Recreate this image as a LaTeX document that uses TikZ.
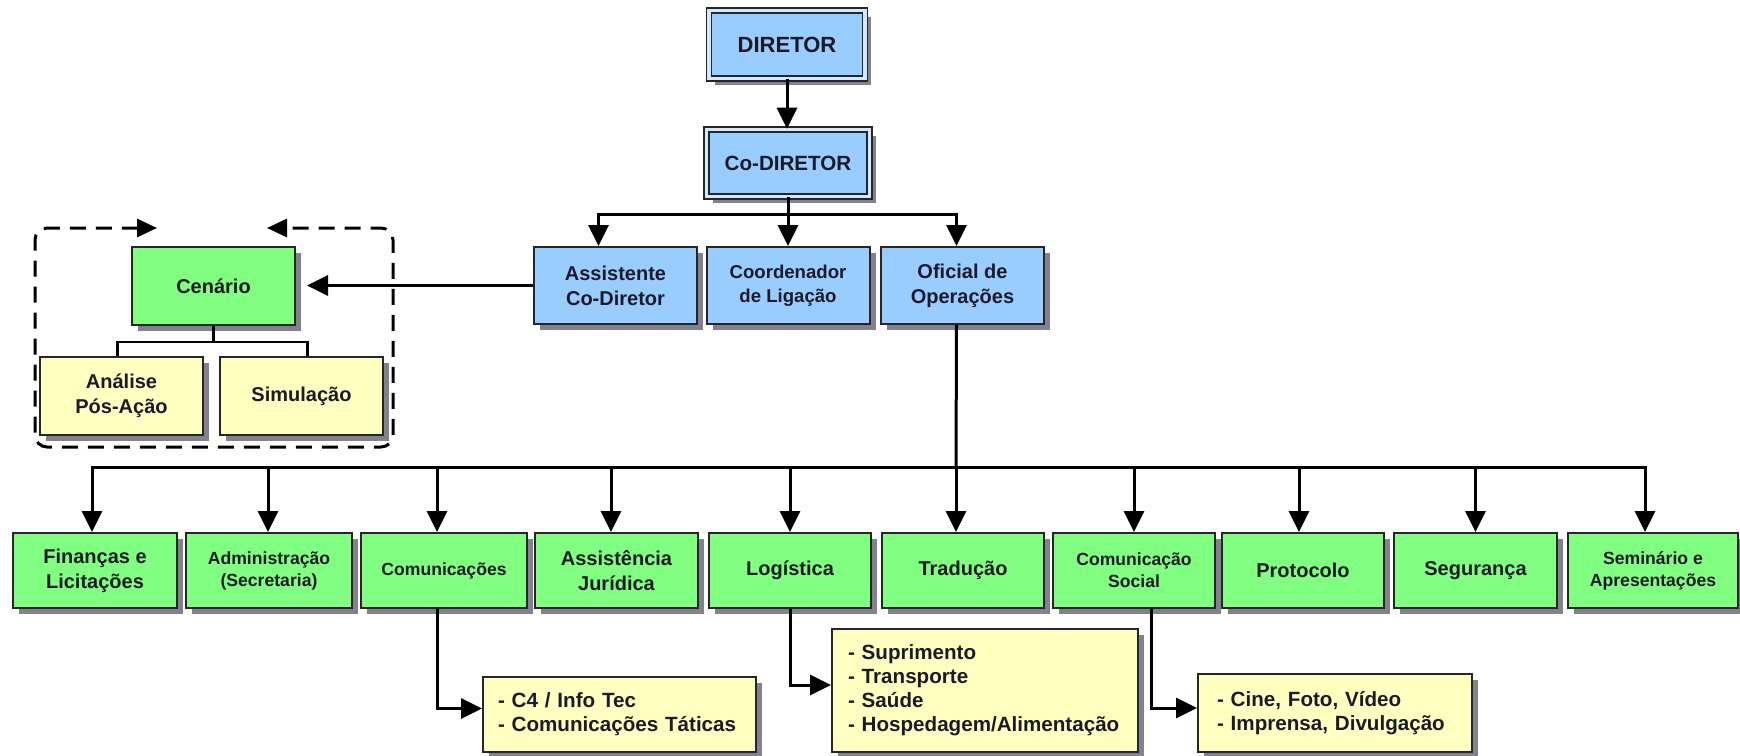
\documentclass[tikz,border=0pt]{standalone}
\usepackage{fontspec}
\setmainfont{Liberation Sans}
\usetikzlibrary{arrows.meta,shadows}
\definecolor{bblue}{HTML}{99CCFF}
\definecolor{bgreen}{HTML}{80FF80}
\definecolor{byellow}{HTML}{FFFFC0}
\definecolor{shad}{HTML}{858090}
\definecolor{txt}{HTML}{1A1A28}
\tikzset{
  box/.style={draw=black!85, line width=1pt, text=txt, align=center, inner sep=0pt,
    font=\bfseries\fontsize{10}{12.5}\selectfont,
    drop shadow={shadow xshift=3pt, shadow yshift=-3pt, fill=shad, opacity=1}},
  boss/.style={box, fill=bblue, double=bblue!45!white, double distance=1.6pt, line width=0.8pt},
  bluebox/.style={box, fill=bblue, minimum width=81.5pt, minimum height=38.5pt},
  greenbox/.style={box, fill=bgreen, minimum height=37.5pt},
  yellowbox/.style={box, fill=byellow},
  listbox/.style={box, fill=byellow, align=left, font=\bfseries\fontsize{10.3}{12}\selectfont},
  smalltxt/.style={font=\bfseries\fontsize{8.8}{11}\selectfont},
  conn/.style={line width=1.5pt, draw=black},
  arr/.style={conn, -{Triangle[width=10pt,length=10.5pt]}},
  treeline/.style={line width=1.3pt, draw=black},
  dashframe/.style={line width=1.5pt, draw=black, dash pattern=on 8pt off 5pt, rounded corners=6pt,
    {Triangle[width=9pt,length=10pt]}-{Triangle[width=9pt,length=10pt]}},
}
\begin{document}
\begin{tikzpicture}[x=0.5pt, y=-0.5pt]
\fill[white] (0,0) rectangle (1740,755);
\useasboundingbox (0,0) rectangle (1740,755);

% top
\node[boss, minimum width=78pt, minimum height=34pt, font=\bfseries\fontsize{11}{13}\selectfont] (dir) at (787,44.5) {DIRETOR};
\node[boss, minimum width=81.5pt, minimum height=33.5pt, font=\bfseries\fontsize{10.3}{12}\selectfont] (codir) at (788,163) {Co-DIRETOR};

\node[bluebox] (asst) at (615.5,285.5) {Assistente\\Co-Diretor};
\node[bluebox, font=\bfseries\fontsize{9.3}{12}\selectfont] (coord) at (788,285.5) {Coordenador\\de Ligação};
\node[bluebox] (ofic) at (962.5,285.5) {Oficial de\\Operações};

% left group
\node[greenbox, minimum width=81.5pt, minimum height=39pt] (cen) at (213.5,286) {Cenário};
\node[yellowbox, minimum width=81.5pt, minimum height=39pt] (anal) at (121.5,396) {Análise\\Pós-Ação};
\node[yellowbox, minimum width=81.5pt, minimum height=39pt] (simu) at (301.5,396) {Simulação};

% bottom row
\node[greenbox, minimum width=82pt] (fin) at (95,570.5) {Finanças e\\Licitações};
\node[greenbox, smalltxt, minimum width=83pt] (adm) at (269,570.5) {Administração\\(Secretaria)};
\node[greenbox, smalltxt, minimum width=83pt] (com) at (444,570.5) {Comunicações};
\node[greenbox, minimum width=81.5pt] (ajur) at (616.5,570.5) {Assistência\\Jurídica};
\node[greenbox, minimum width=81pt] (log) at (790,570.5) {Logística};
\node[greenbox, minimum width=81pt] (trad) at (963,570.5) {Tradução};
\node[greenbox, smalltxt, minimum width=81pt] (csoc) at (1134,570.5) {Comunicação\\Social};
\node[greenbox, minimum width=81pt] (prot) at (1303,570.5) {Protocolo};
\node[greenbox, minimum width=81.5pt] (seg) at (1475.5,570.5) {Segurança};
\node[greenbox, smalltxt, minimum width=85pt] (sem) at (1653,570.5) {Seminário e\\Apresentações};

% sub boxes
\node[listbox, text width=121.5pt, inner xsep=7.5pt, minimum height=37.5pt] (c4) at (619.5,714.5) {- C4 / Info Tec\\- Comunicações Táticas};
\node[listbox, text width=137pt, inner xsep=8pt, minimum height=61.5pt] (logs) at (985,690.5) {- Suprimento\\- Transporte\\- Saúde\\- Hospedagem/Alimentação};
\node[listbox, text width=118pt, inner xsep=9.5pt, minimum height=39pt] (cine) at (1335,713) {- Cine, Foto, Vídeo\\- Imprensa, Divulgação};

% connectors top
\draw[arr] (dir.south) -- (dir.south |- codir.north);
\coordinate (j1) at (788,214);
\draw[conn] (codir.south) -- (j1);
\draw[arr] (j1) -| ([xshift=-8.5pt]asst.north);
\draw[arr] (j1) -- (coord.north);
\draw[arr] (j1) -| ([xshift=-3pt]ofic.north);

% to Cenario
\draw[arr] (asst.west) -- ([xshift=5.5pt]cen.east |- asst.west);

% Cenario tree
\draw[treeline] (cen.south) -- ++(0,16) coordinate (j2);
\draw[treeline] (j2) -| ([xshift=-2pt]anal.north);
\draw[treeline] (j2) -| ([xshift=3pt]simu.north);

% dashed frame
\coordinate (fa) at (157,228);
\coordinate (fb) at (267,228);
\draw[dashframe] (fa) -- (35,228) -- (35,447) -- (393,447) -- (393,228) -- (fb);

% main bus
\coordinate (bus) at (956,467);
\draw[conn] ([xshift=-3pt]ofic.south) -- (bus);
\draw[arr] (bus) -| ([xshift=-1.5pt]fin.north);
\draw[arr] (bus) -| ([xshift=-0.5pt]adm.north);
\draw[arr] (bus) -| ([xshift=-3.5pt]com.north);
\draw[arr] (bus) -| ([xshift=-2.75pt]ajur.north);
\draw[arr] (bus) -| (log.north);
\draw[arr] (bus) -- (bus |- trad.north);
\draw[arr] (bus) -| (csoc.north);
\draw[arr] (bus) -| ([xshift=-2pt]prot.north);
\draw[arr] (bus) -| (seg.north);
\draw[arr] (bus) -| ([xshift=-4pt]sem.north);

% sub connectors
\draw[arr] ([xshift=-3.5pt]com.south) |- ([yshift=3pt]c4.west);
\draw[arr] (log.south) |- ([yshift=2.75pt]logs.west);
\draw[arr] ([xshift=8.5pt]csoc.south) |- ([yshift=2.5pt]cine.west);
\end{tikzpicture}
\end{document}
